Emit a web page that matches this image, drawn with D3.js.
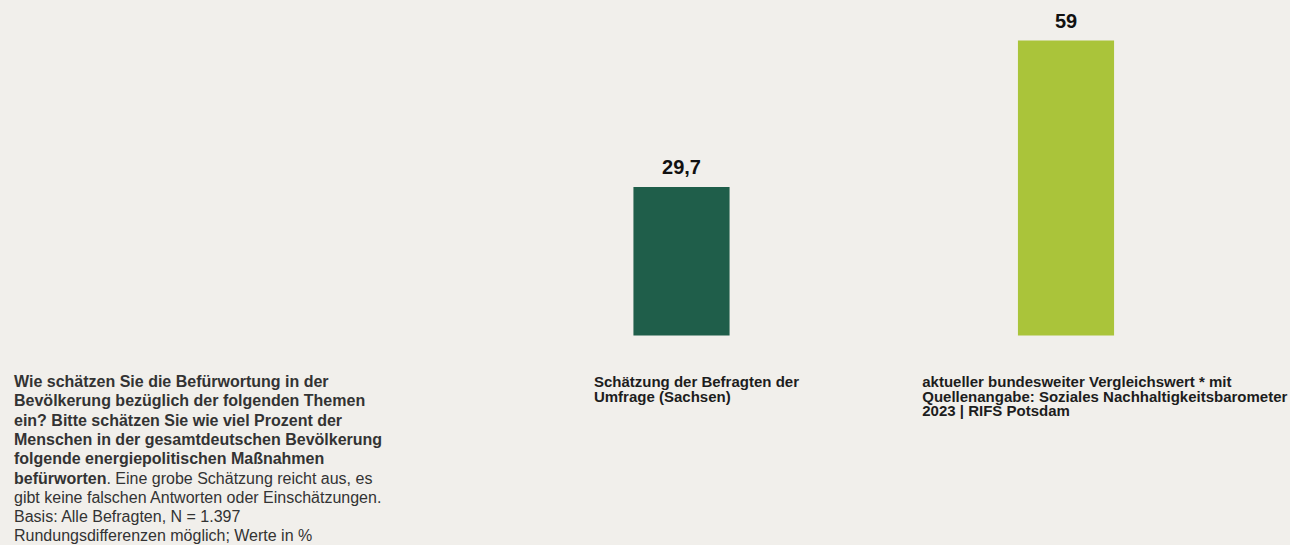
<!DOCTYPE html>
<html>
<head>
<meta charset="utf-8">
<script src="https://cdn.jsdelivr.net/npm/d3@7"></script>
<style>
  html, body { margin: 0; padding: 0; background: #f1efeb; }
  svg { display: block; font-family: "Liberation Sans", Arial, sans-serif; }
</style>
</head>
<body>
<svg id="chart" width="1290" height="545"></svg>
<script>
// Data
const categories = ['survey', 'national']
const values = [29.7, 59]
const valueLabels = ['29,7', '59']
const barColors = ['#1f5e4a', '#aac43a']
const barLabels = [
  ['Schätzung der Befragten der', 'Umfrage (Sachsen)'],
  ['aktueller bundesweiter Vergleichswert * mit', 'Quellenangabe: Soziales Nachhaltigkeitsbarometer', '2023 | RIFS Potsdam']
]
// question text, each line is a list of [text, bold]
const noteLines = [
  [['Wie schätzen Sie die Befürwortung in der', true]],
  [['Bevölkerung bezüglich der folgenden Themen', true]],
  [['ein? Bitte schätzen Sie wie viel Prozent der', true]],
  [['Menschen in der gesamtdeutschen Bevölkerung', true]],
  [['folgende energiepolitischen Maßnahmen', true]],
  [['befürworten', true], ['. Eine grobe Schätzung reicht aus, es', false]],
  [['gibt keine falschen Antworten oder Einschätzungen.', false]],
  [['Basis: Alle Befragten, N = 1.397', false]],
  [['Rundungsdifferenzen möglich; Werte in %', false]]
]

const svg = d3.select('#chart')

// Scales
const baseline = 335.5
const x = d3.scaleBand()
  .domain(categories)
  .range([489.25, 1258.25])
  .paddingInner(0.75)
  .paddingOuter(0.375)

const y = d3.scaleLinear()
  .domain([0, 60])
  .range([baseline, baseline - 300])

// Bars
svg.selectAll('rect.bar')
  .data(categories)
  .join('rect')
  .attr('class', 'bar')
  .attr('x', d => x(d))
  .attr('y', (d, i) => y(values[i]))
  .attr('width', x.bandwidth())
  .attr('height', (d, i) => y(0) - y(values[i]))
  .attr('fill', (d, i) => barColors[i])

// Value labels above the bars
svg.selectAll('text.value')
  .data(categories)
  .join('text')
  .attr('class', 'value')
  .attr('x', d => x(d) + x.bandwidth() / 2)
  .attr('y', (d, i) => y(values[i]) - 13)
  .attr('text-anchor', 'middle')
  .attr('font-size', 20)
  .attr('font-weight', 'bold')
  .attr('fill', '#111')
  .text((d, i) => valueLabels[i])

// Category labels (left aligned, shifted from bar start)
const labelDx = [-39.5, -95.7]
const labelTop = 387
categories.forEach((c, i) => {
  const t = svg.append('text')
    .attr('class', 'cat-label')
    .attr('font-size', 15)
    .attr('font-weight', 'bold')
    .attr('fill', '#1d1d1d')
  barLabels[i].forEach((line, j) => {
    t.append('tspan')
      .attr('x', x(c) + labelDx[i])
      .attr('y', labelTop + j * 14.7)
      .text(line)
  })
})

// Question note bottom left
const note = svg.append('text')
  .attr('font-size', 16)
  .attr('fill', '#333')
noteLines.forEach((line, j) => {
  line.forEach(([txt, bold], k) => {
    const ts = note.append('tspan')
      .attr('font-weight', bold ? 'bold' : 'normal')
      .text(txt)
    if (k === 0) ts.attr('x', 14).attr('y', 387 + j * 19.3)
  })
})
</script>
</body>
</html>
